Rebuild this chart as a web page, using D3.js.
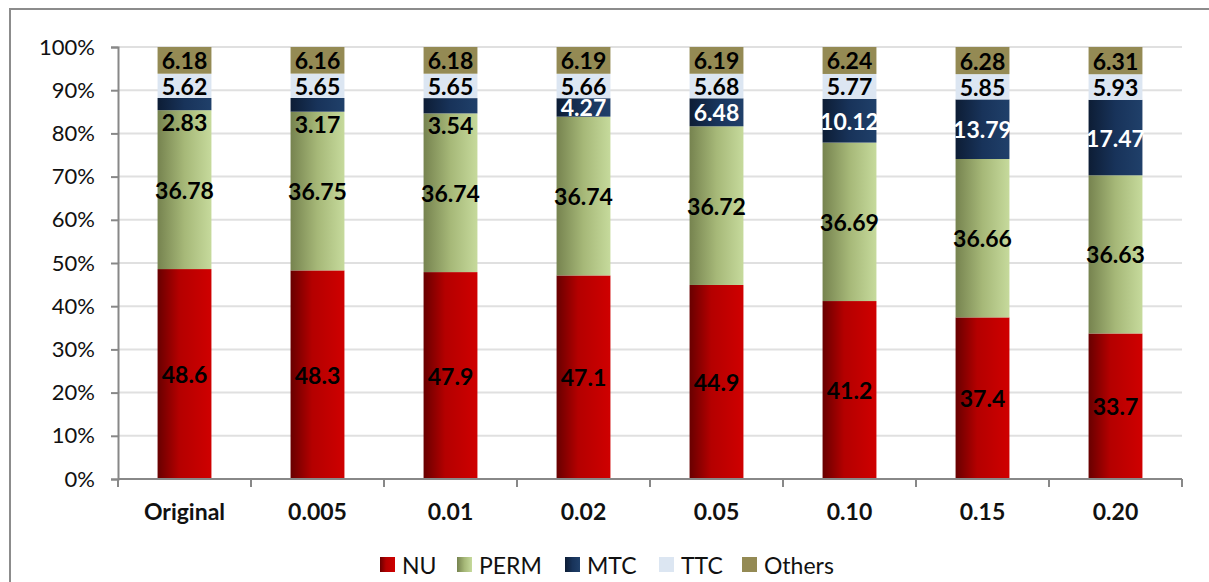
<!DOCTYPE html>
<html>
<head>
<meta charset="utf-8">
<script src="https://cdn.jsdelivr.net/npm/d3@7"></script>
<style>
  html, body { margin: 0; padding: 0; background: #fff; }
  svg { display: block; font-family: Lato, "Open Sans", sans-serif; }
</style>
</head>
<body>
<svg id="chart" width="1209" height="582"></svg>
<script>
// Scenario categories along the x axis
const categories = ["Original", "0.005", "0.01", "0.02", "0.05", "0.10", "0.15", "0.20"];
// Share (%) of each component per scenario
const nu     = [48.6, 48.3, 47.9, 47.1, 44.9, 41.2, 37.4, 33.7];
const perm   = [36.78, 36.75, 36.74, 36.74, 36.72, 36.69, 36.66, 36.63];
const mtc    = [2.83, 3.17, 3.54, 4.27, 6.48, 10.12, 13.79, 17.47];
const ttc    = [5.62, 5.65, 5.65, 5.66, 5.68, 5.77, 5.85, 5.93];
const others = [6.18, 6.16, 6.18, 6.19, 6.19, 6.24, 6.28, 6.31];
const seriesNames = ["NU", "PERM", "MTC", "TTC", "Others"];
const yTicks = [0, 0.1, 0.2, 0.3, 0.4, 0.5, 0.6, 0.7, 0.8, 0.9, 1.0];

const seriesValues = [nu, perm, mtc, ttc, others];
const rows = categories.map((c, i) => {
  const r = { cat: c };
  seriesNames.forEach((s, k) => r[s] = seriesValues[k][i]);
  return r;
});

const svg = d3.select("#chart");
const margin = { left: 118, right: 27, top: 47, bottom: 103 };
const W = 1209, H = 582;
const x0 = margin.left, x1 = W - margin.right;
const yTop = margin.top, yBot = H - margin.bottom;

const x = d3.scaleBand().domain(categories).range([x0, x1]).paddingInner(0.595).paddingOuter(0.2975);
const y = d3.scaleLinear().domain([0, 1]).range([yBot, yTop]);

// Fill styles: horizontal gradients for the first three series
const defs = svg.append("defs");
const gradients = {
  NU:   [["0%", "#680000"], ["40%", "#b40000"], ["100%", "#cf0000"]],
  PERM: [["0%", "#76834f"], ["50%", "#a6b878"], ["100%", "#c6da9c"]],
  MTC:  [["0%", "#0d1d35"], ["50%", "#18335a"], ["100%", "#20406a"]]
};
Object.entries(gradients).forEach(([name, stops]) => {
  const g = defs.append("linearGradient").attr("id", "grad-" + name)
    .attr("x1", "0%").attr("x2", "100%").attr("y1", "0%").attr("y2", "0%");
  stops.forEach(([o, c]) => g.append("stop").attr("offset", o).attr("stop-color", c));
});
const fills = { NU: "url(#grad-NU)", PERM: "url(#grad-PERM)", MTC: "url(#grad-MTC)", TTC: "#dce6f2", Others: "#948a54" };

// Outer frame
svg.append("rect").attr("x", 10).attr("y", 9).attr("width", 1220).attr("height", 600)
  .attr("fill", "none").attr("stroke", "#8c8c8c").attr("stroke-width", 2);

// Horizontal gridlines
svg.append("g").selectAll("line").data(yTicks.slice(1)).join("line")
  .attr("x1", x0).attr("x2", x1)
  .attr("y1", d => y(d)).attr("y2", d => y(d))
  .attr("stroke", "#e0e0e0").attr("stroke-width", 2);

// Y axis
const yAxis = svg.append("g").attr("transform", `translate(${x0},0)`)
  .call(d3.axisLeft(y).tickValues(yTicks).tickFormat(d3.format(".0%")).tickSize(7).tickPadding(16));
yAxis.select(".domain").attr("stroke", "#888").attr("stroke-width", 2);
yAxis.selectAll(".tick line").attr("stroke", "#888").attr("stroke-width", 2);
yAxis.selectAll(".tick text").attr("font-size", 22).attr("fill", "#111")
  .attr("font-family", "Lato, sans-serif");

// Stacked bars
const stack = d3.stack().keys(seriesNames).offset(d3.stackOffsetExpand);
const layers = stack(rows);

const barG = svg.append("g");
layers.forEach(layer => {
  barG.append("g").selectAll("rect").data(layer).join("rect")
    .attr("x", d => x(d.data.cat))
    .attr("width", x.bandwidth())
    .attr("y", d => y(d[1]))
    .attr("height", d => y(d[0]) - y(d[1]))
    .attr("fill", fills[layer.key]);
});

// Clip regions so MTC labels stay inside their own segment
const mtcLayer = layers.find(l => l.key === "MTC");
mtcLayer.forEach((d, i) => {
  defs.append("clipPath").attr("id", "clip-mtc-" + i)
    .append("rect")
    .attr("x", x(d.data.cat) - 10).attr("width", x.bandwidth() + 20)
    .attr("y", y(d[1])).attr("height", y(d[0]) - y(d[1]));
});

// X axis baseline and category separators
svg.append("line").attr("x1", x0).attr("x2", x1).attr("y1", yBot).attr("y2", yBot)
  .attr("stroke", "#888").attr("stroke-width", 2);
const bounds = d3.range(categories.length + 1).map(i => x0 + i * x.step());
svg.append("g").selectAll("line").data(bounds).join("line")
  .attr("x1", d => d).attr("x2", d => d).attr("y1", yBot).attr("y2", yBot + 8)
  .attr("stroke", "#888").attr("stroke-width", 2);

// Category labels
svg.append("g").selectAll("text").data(categories).join("text")
  .attr("x", d => x(d) + x.bandwidth() / 2).attr("y", 514)
  .attr("text-anchor", "middle").attr("dominant-baseline", "middle")
  .attr("font-size", 23).attr("font-weight", "bold").attr("fill", "#111")
  .text(d => d);

// Value labels
const labelG = svg.append("g");
layers.forEach(layer => {
  const fmt = layer.key === "NU" ? d3.format(".1f") : d3.format(".2f");
  labelG.append("g").selectAll("text").data(layer).join("text")
    .each(function(d, i) {
      const top = y(d[1]), bot = y(d[0]);
      const h = bot - top;
      let cy = (top + bot) / 2;
      let color = layer.key === "MTC" ? "#fff" : "#000";
      const sel = d3.select(this);
      if (layer.key === "MTC") {
        if (h < 17) { cy = bot + 12; color = "#000"; }
        else if (h < 22) { sel.attr("clip-path", `url(#clip-mtc-${i})`); }
      }
      sel.attr("x", x(d.data.cat) + x.bandwidth() / 2)
        .attr("y", cy)
        .attr("fill", color);
    })
    .attr("text-anchor", "middle").attr("dominant-baseline", "central")
    .attr("font-size", 23).attr("font-weight", "bold")
    .text(d => fmt(d.data[layer.key]));
});

// Legend
const legendX = [380, 457, 565, 659, 742];
const leg = svg.append("g");
seriesNames.forEach((s, i) => {
  leg.append("rect").attr("x", legendX[i]).attr("y", 557).attr("width", 15).attr("height", 15)
    .attr("fill", fills[s]);
  leg.append("text").attr("x", legendX[i] + 22).attr("y", 565)
    .attr("dominant-baseline", "central").attr("font-size", 23).attr("fill", "#111")
    .text(s);
});
</script>
</body>
</html>
